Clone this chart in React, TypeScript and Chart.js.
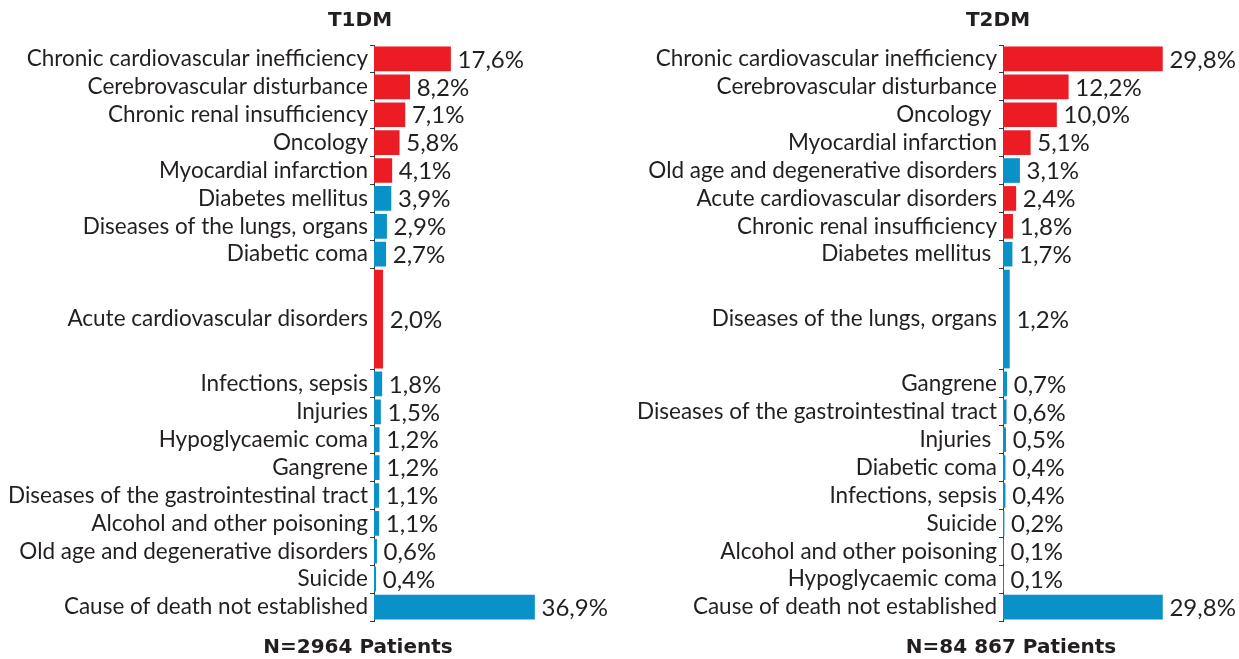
import React, { useEffect, useRef } from "react";
import { Chart, registerables } from "chart.js";

Chart.register(...registerables);

// ---------- data ----------
const t1Causes = [
  "Chronic cardiovascular inefficiency",
  "Cerebrovascular disturbance",
  "Chronic renal insufficiency",
  "Oncology",
  "Myocardial infarction",
  "Diabetes mellitus",
  "Diseases of the lungs, organs",
  "Diabetic coma",
  "Acute cardiovascular disorders",
  "Infections, sepsis",
  "Injuries",
  "Hypoglycaemic coma",
  "Gangrene",
  "Diseases of the gastrointestinal tract",
  "Alcohol and other poisoning",
  "Old age and degenerative disorders",
  "Suicide",
  "Cause of death not established",
];
const t1Values = [17.6, 8.2, 7.1, 5.8, 4.1, 3.9, 2.9, 2.7, 2.0, 1.8, 1.5, 1.2, 1.2, 1.1, 1.1, 0.6, 0.4, 36.9];

const t2Causes = [
  "Chronic cardiovascular inefficiency",
  "Cerebrovascular disturbance",
  "Oncology ",
  "Myocardial infarction",
  "Old age and degenerative disorders",
  "Acute cardiovascular disorders",
  "Chronic renal insufficiency",
  "Diabetes mellitus ",
  "Diseases of the lungs, organs",
  "Gangrene",
  "Diseases of the gastrointestinal tract",
  "Injuries ",
  "Diabetic coma",
  "Infections, sepsis",
  "Suicide",
  "Alcohol and other poisoning",
  "Hypoglycaemic coma",
  "Cause of death not established",
];
const t2Values = [29.8, 12.2, 10.0, 5.1, 3.1, 2.4, 1.8, 1.7, 1.2, 0.7, 0.6, 0.5, 0.4, 0.4, 0.2, 0.1, 0.1, 29.8];

// causes drawn in red (cardiovascular / renal / oncology group)
const highlightedCauses = [
  "Chronic cardiovascular inefficiency",
  "Cerebrovascular disturbance",
  "Chronic renal insufficiency",
  "Oncology",
  "Myocardial infarction",
  "Acute cardiovascular disorders",
];

const t1ExpandedCause = "Acute cardiovascular disorders";
const t2ExpandedCause = "Diseases of the lungs, organs";

const t1Title = "T1DM";
const t2Title = "T2DM";
const t1Footer = "N=2964 Patients";
const t2Footer = "N=84 867 Patients";

// ---------- styles / layout ----------
const RED = "#EC1C24";
const BLUE = "#0A92C8";
const TEXT = "#231F20";
const AXIS = "#3a3a3a";
const FONT = "Lato";
const BOLD_FONT = "'DejaVu Sans'";
const LABEL_SIZE = 22.5;
const VALUE_SIZE = 24;
const TITLE_SIZE = 20;
const TALL_SPAN = 3.65;
const CHART_TOP = 45;
const CHART_BOTTOM_PAD = 38;
const BAR_THICK = 24;
const TALL_BAR_THICK = 98;

const fmt = (v: number) => v.toFixed(1).replace(".", ",") + "%";

const annotPlugin = {
  id: "annot",
  afterDatasetsDraw(chart: any, _args: any, opts: any) {
    const ctx = chart.ctx;
    ctx.save();
    ctx.fillStyle = TEXT;
    ctx.font = `${VALUE_SIZE}px ${FONT}`;
    ctx.textAlign = "left";
    ctx.textBaseline = "middle";
    chart.data.datasets.forEach((ds: any, di: number) => {
      const meta = chart.getDatasetMeta(di);
      meta.data.forEach((el: any, i: number) => {
        const raw = ds.data[i];
        if (!raw) return;
        ctx.fillText(fmt(raw.x), el.x + 7, el.y + 1);
      });
    });
    ctx.font = `bold ${TITLE_SIZE}px ${BOLD_FONT}`;
    ctx.textAlign = "center";
    const left = chart.chartArea.left;
    ctx.fillText(opts.title, left + opts.titleDx, 21);
    ctx.fillText(opts.footer, left + opts.footerDx, 648);
    ctx.restore();
  },
};

function buildConfig(
  causes: string[],
  values: number[],
  expanded: string,
  axisX: number,
  xMax: number,
  padRight: number,
  title: string,
  footer: string,
  titleDx: number,
  footerDx: number
): any {
  const centers: number[] = [];
  const bounds: number[] = [0];
  let acc = 0;
  causes.forEach((c) => {
    const h = c.trim() === expanded ? TALL_SPAN : 1;
    centers.push(acc + h / 2);
    acc += h;
    bounds.push(acc);
  });
  const tickVals: number[] = [];
  causes.forEach((_c, i) => {
    tickVals.push(bounds[i]);
    tickVals.push(centers[i]);
  });
  tickVals.push(bounds[causes.length]);
  const key = (v: number) => Math.round(v * 1000);
  const boundKeys = new Set(bounds.map(key));
  const labelByKey = new Map<number, string>();
  centers.forEach((c, i) => labelByKey.set(key(c), causes[i]));

  const colorOf = (c: string) => (highlightedCauses.includes(c.trim()) ? RED : BLUE);
  const normal = causes.map((c, i) => ({ c, i })).filter((o) => o.c.trim() !== expanded);
  const tall = causes.map((c, i) => ({ c, i })).filter((o) => o.c.trim() === expanded);

  return {
    type: "bar",
    data: {
      datasets: [
        {
          data: normal.map((o) => ({ x: values[o.i], y: centers[o.i] })),
          backgroundColor: normal.map((o) => colorOf(o.c)),
          barThickness: BAR_THICK,
          borderWidth: 0,
        },
        {
          data: tall.map((o) => ({ x: values[o.i], y: centers[o.i] })),
          backgroundColor: tall.map((o) => colorOf(o.c)),
          barThickness: TALL_BAR_THICK,
          borderWidth: 0,
        },
      ],
    },
    options: {
      indexAxis: "y",
      responsive: false,
      animation: false,
      layout: { padding: { left: 0, right: padRight, top: CHART_TOP, bottom: CHART_BOTTOM_PAD } },
      plugins: {
        legend: { display: false },
        tooltip: { enabled: false },
        annot: { title, footer, titleDx, footerDx },
      },
      datasets: { bar: { grouped: false } },
      scales: {
        x: { type: "linear", display: false, min: 0, max: xMax },
        y: {
          type: "linear",
          reverse: true,
          offset: false,
          min: 0,
          max: acc,
          afterBuildTicks: (scale: any) => {
            scale.ticks = tickVals.map((v) => ({ value: v }));
          },
          afterFit: (scale: any) => {
            scale.width = axisX;
            scale.paddingTop = 0;
            scale.paddingBottom = 0;
          },
          ticks: {
            autoSkip: false,
            source: "data",
            padding: 2,
            color: TEXT,
            font: { family: FONT, size: LABEL_SIZE },
            callback: (v: any) => labelByKey.get(key(Number(v))) || " ",
          },
          grid: {
            display: true,
            offset: false,
            drawOnChartArea: false,
            drawTicks: true,
            tickLength: 4,
            color: (ctx: any) =>
              ctx.tick && boundKeys.has(key(ctx.tick.value)) ? AXIS : "rgba(0,0,0,0)",
            lineWidth: 1,
          },
          border: { display: true, color: AXIS, width: 1 },
        },
      },
    },
    plugins: [annotPlugin],
  };
}

function Panel(props: { cfg: () => any; width: number }) {
  const ref = useRef<HTMLCanvasElement>(null);
  useEffect(() => {
    const chart = new Chart(ref.current as HTMLCanvasElement, props.cfg());
    return () => chart.destroy();
  }, []);
  return <canvas ref={ref} width={props.width} height={659} style={{ display: "block", width: props.width, height: 659 }} />;
}

export default function App() {
  return (
    <div
      style={{
        position: "fixed",
        left: 0,
        top: 0,
        width: 1239,
        height: 659,
        background: "#ffffff",
        display: "flex",
      }}
    >
      <Panel
        width={620}
        cfg={() => buildConfig(t1Causes, t1Values, t1ExpandedCause, 374, 50, 28.5, t1Title, t1Footer, -14, -16)}
      />
      <Panel
        width={619}
        cfg={() => buildConfig(t2Causes, t2Values, t2ExpandedCause, 383, 40, 22, t2Title, t2Footer, -5, 8)}
      />
    </div>
  );
}
